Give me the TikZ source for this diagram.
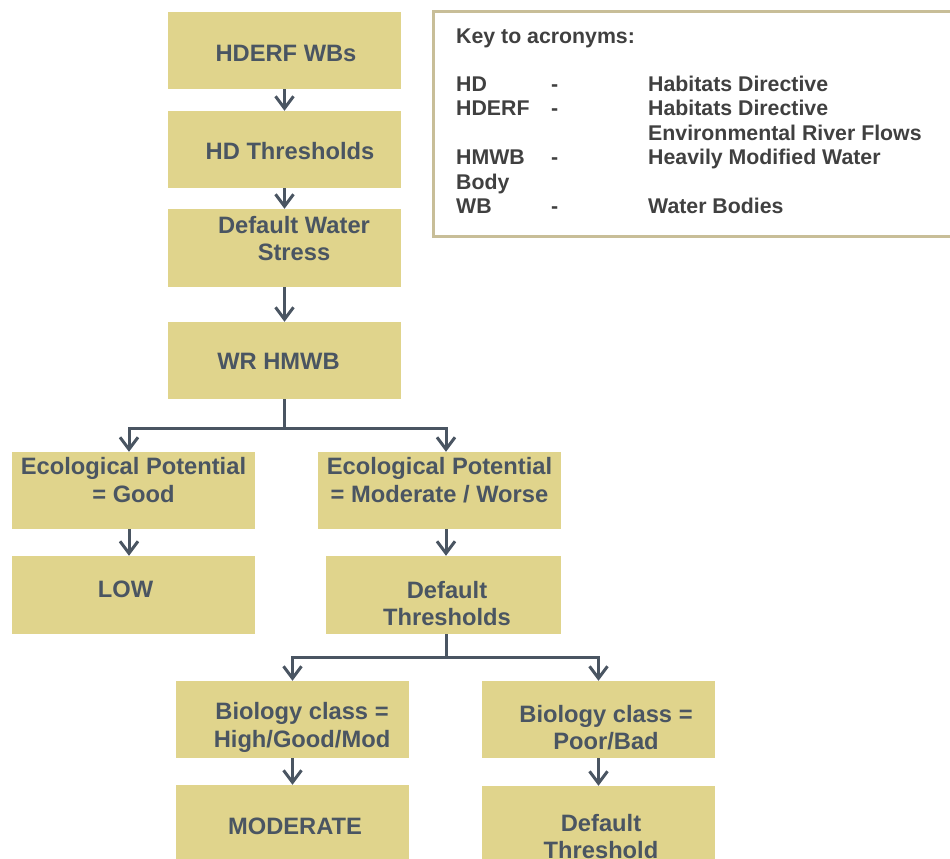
\documentclass[tikz,border=0pt]{standalone}
\usepackage{fontspec}
\setmainfont{Liberation Sans}
\usetikzlibrary{arrows.meta}
\definecolor{boxfill}{HTML}{E0D48C}
\definecolor{boxtext}{HTML}{4A5562}
\definecolor{keytext}{HTML}{404040}
\definecolor{keyline}{HTML}{C8BE98}
\begin{document}
\begin{tikzpicture}[x=1pt, y=-1pt,
    box/.style={fill=boxfill, minimum width=233pt, minimum height=77pt, inner sep=0pt},
    widebox/.style={box, minimum width=243pt},
    lbl/.style={text=boxtext, font=\bfseries\fontsize{23.7}{27.5}\selectfont, align=center, inner sep=0pt},
    keylbl/.style={text=keytext, font=\bfseries\fontsize{21.3}{24.5}\selectfont, anchor=base west, inner sep=0pt},
    link/.style={draw=boxtext, line width=3pt},
    arr/.style={link, -{Straight Barb[length=12pt,width=18pt]}}]
    \useasboundingbox (0,0) rectangle (950,859);

    % boxes
    \node[box] (wbs) at (284.5, 50.5) {};
    \node[box] (hdthr) at (284.5, 149.5) {};
    \node[box, minimum height=78pt] (stress) at (284.5, 248) {};
    \node[box] (hmwb) at (284.5, 360.5) {};
    \node[widebox] (good) at (133.5, 490.5) {};
    \node[widebox] (worse) at (439.5, 490.5) {};
    \node[widebox, minimum height=78pt] (low) at (133.5, 595) {};
    \node[box, minimum width=235pt, minimum height=78pt] (defthr) at (443.5, 595) {};
    \node[box] (highmod) at (292.5, 719.5) {};
    \node[box] (poorbad) at (598.5, 719.5) {};
    \node[box] (moderate) at (292.5, 823.5) {};
    \node[box] (defone) at (598.5, 824.5) {};

    % texts
    \node[lbl] (wbs-t) at (286, 53) {HDERF WBs};
    \node[lbl] (hdthr-t) at (290, 151) {HD Thresholds};
    \node[lbl] (stress-t) at (294, 238.5) {Default Water\\Stress};
    \node[lbl] (hmwb-t) at (278.5, 361) {WR HMWB};
    \node[lbl] (good-t) at (133.5, 480) {Ecological Potential\\= Good};
    \node[lbl] (worse-t) at (439.5, 480) {Ecological Potential\\= Moderate / Worse};
    \node[lbl] (low-t) at (125.5, 589) {LOW};
    \node[lbl] (defthr-t) at (447, 603.5) {Default\\Thresholds};
    \node[lbl] (highmod-t) at (302, 727.5) {Biology class =\\High/Good/Mod};
    \node[lbl] (poorbad-t) at (606, 727.5) {Biology class =\\Poor/Bad};
    \node[lbl] (moderate-t) at (295, 826) {MODERATE};
    \node[lbl] (defone-t) at (601, 836.5) {Default\\Threshold};

    % connectors
    \draw[arr] (wbs.south) -- (hdthr.north);
    \draw[arr] (hdthr.south) -- (stress.north);
    \draw[arr] (stress.south) -- (hmwb.north);
    \coordinate (fork1) at (284.5, 428);
    \draw[link] (hmwb.south) -- (fork1);
    \draw[arr] (fork1) -| ([xshift=-4.5pt]good.north);
    \draw[arr] (fork1) -| ([xshift=6.5pt]worse.north);
    \draw[arr] ([xshift=-4.5pt]good.south) -- ([xshift=-4.5pt]low.north);
    \draw[arr] ([xshift=6.5pt]worse.south) -- ([xshift=2.5pt]defthr.north);
    \coordinate (fork2) at (446, 657);
    \draw[link] ([xshift=2.5pt]defthr.south) -- (fork2);
    \draw[arr] (fork2) -| (highmod.north);
    \draw[arr] (fork2) -| (poorbad.north);
    \draw[arr] (highmod.south) -- (moderate.north);
    \draw[arr] (poorbad.south) -- (defone.north);

    % key
    \draw[keyline, line width=3pt] (955, 11.5) -- (433.5, 11.5) -- (433.5, 236) -- (955, 236);
    \node[keylbl] (keyhead) at (456, 43.5) {Key to acronyms:};
    \foreach \abbr/\dash/\full [count=\i] in {HD/-/Habitats Directive, HDERF/-/Habitats Directive, {}/{}/Environmental River Flows, HMWB/-/Heavily Modified Water, Body/{}/{}, WB/-/Water Bodies} {
        \node[keylbl] (abbr\i) at (456, 66.5 + 24.5 * \i) {\abbr};
        \node[keylbl] (dash\i) at (551, 66.5 + 24.5 * \i) {\dash};
        \node[keylbl] (full\i) at (648, 66.5 + 24.5 * \i) {\full};
    }
\end{tikzpicture}
\end{document}
